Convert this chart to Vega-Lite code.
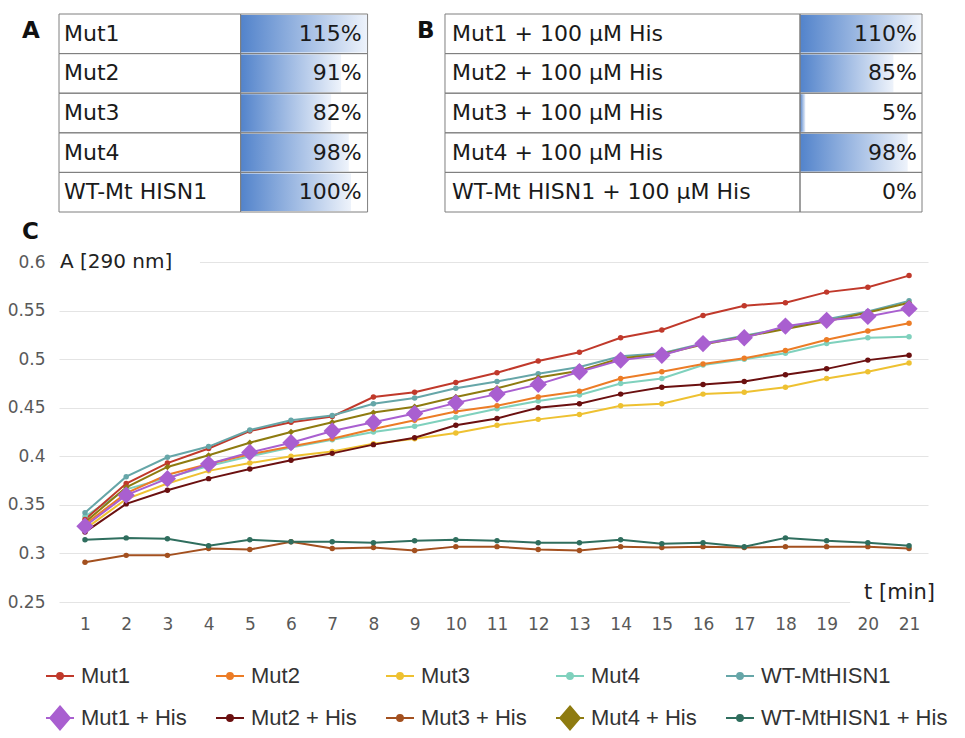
{
  "$schema": "https://vega.github.io/schema/vega-lite/v6.json",
  "autosize": {"type": "none"},
  "padding": {"left": 59, "top": 14, "right": 906, "bottom": 724},
  "background": "white",
  "config": {"view": {"stroke": null}, "font": "DejaVu Sans"},
  "datasets": {
    "tables": [
      {"row": 1, "nameA": "Mut1", "pctA": 1.15, "nameB": "Mut1 + 100 µM His", "pctB": 1.10},
      {"row": 2, "nameA": "Mut2", "pctA": 0.91, "nameB": "Mut2 + 100 µM His", "pctB": 0.85},
      {"row": 3, "nameA": "Mut3", "pctA": 0.82, "nameB": "Mut3 + 100 µM His", "pctB": 0.05},
      {"row": 4, "nameA": "Mut4", "pctA": 0.98, "nameB": "Mut4 + 100 µM His", "pctB": 0.98},
      {"row": 5, "nameA": "WT-Mt HISN1", "pctA": 1.0, "nameB": "WT-Mt HISN1 + 100 µM His", "pctB": 0.0}
    ],
    "kinetics": [
      {"t": 1, "Mut1": 0.335, "Mut2": 0.330, "Mut3": 0.325, "Mut4": 0.338, "WT-MtHISN1": 0.342, "Mut1 + His": 0.328, "Mut2 + His": 0.322, "Mut3 + His": 0.291, "Mut4 + His": 0.332, "WT-MtHISN1 + His": 0.314},
      {"t": 2, "Mut1": 0.372, "Mut2": 0.362, "Mut3": 0.356, "Mut4": 0.366, "WT-MtHISN1": 0.379, "Mut1 + His": 0.360, "Mut2 + His": 0.351, "Mut3 + His": 0.298, "Mut4 + His": 0.368, "WT-MtHISN1 + His": 0.316},
      {"t": 3, "Mut1": 0.393, "Mut2": 0.381, "Mut3": 0.372, "Mut4": 0.378, "WT-MtHISN1": 0.399, "Mut1 + His": 0.377, "Mut2 + His": 0.365, "Mut3 + His": 0.298, "Mut4 + His": 0.389, "WT-MtHISN1 + His": 0.315},
      {"t": 4, "Mut1": 0.408, "Mut2": 0.392, "Mut3": 0.385, "Mut4": 0.390, "WT-MtHISN1": 0.410, "Mut1 + His": 0.392, "Mut2 + His": 0.377, "Mut3 + His": 0.305, "Mut4 + His": 0.401, "WT-MtHISN1 + His": 0.308},
      {"t": 5, "Mut1": 0.426, "Mut2": 0.402, "Mut3": 0.393, "Mut4": 0.400, "WT-MtHISN1": 0.427, "Mut1 + His": 0.404, "Mut2 + His": 0.387, "Mut3 + His": 0.304, "Mut4 + His": 0.414, "WT-MtHISN1 + His": 0.314},
      {"t": 6, "Mut1": 0.435, "Mut2": 0.410, "Mut3": 0.400, "Mut4": 0.409, "WT-MtHISN1": 0.437, "Mut1 + His": 0.414, "Mut2 + His": 0.396, "Mut3 + His": 0.312, "Mut4 + His": 0.425, "WT-MtHISN1 + His": 0.312},
      {"t": 7, "Mut1": 0.441, "Mut2": 0.418, "Mut3": 0.405, "Mut4": 0.417, "WT-MtHISN1": 0.442, "Mut1 + His": 0.426, "Mut2 + His": 0.403, "Mut3 + His": 0.305, "Mut4 + His": 0.435, "WT-MtHISN1 + His": 0.312},
      {"t": 8, "Mut1": 0.461, "Mut2": 0.428, "Mut3": 0.413, "Mut4": 0.425, "WT-MtHISN1": 0.454, "Mut1 + His": 0.435, "Mut2 + His": 0.412, "Mut3 + His": 0.306, "Mut4 + His": 0.445, "WT-MtHISN1 + His": 0.311},
      {"t": 9, "Mut1": 0.466, "Mut2": 0.437, "Mut3": 0.418, "Mut4": 0.431, "WT-MtHISN1": 0.460, "Mut1 + His": 0.444, "Mut2 + His": 0.419, "Mut3 + His": 0.303, "Mut4 + His": 0.451, "WT-MtHISN1 + His": 0.313},
      {"t": 10, "Mut1": 0.476, "Mut2": 0.446, "Mut3": 0.424, "Mut4": 0.440, "WT-MtHISN1": 0.470, "Mut1 + His": 0.455, "Mut2 + His": 0.432, "Mut3 + His": 0.307, "Mut4 + His": 0.461, "WT-MtHISN1 + His": 0.314},
      {"t": 11, "Mut1": 0.486, "Mut2": 0.452, "Mut3": 0.432, "Mut4": 0.449, "WT-MtHISN1": 0.477, "Mut1 + His": 0.464, "Mut2 + His": 0.439, "Mut3 + His": 0.307, "Mut4 + His": 0.470, "WT-MtHISN1 + His": 0.313},
      {"t": 12, "Mut1": 0.498, "Mut2": 0.461, "Mut3": 0.438, "Mut4": 0.457, "WT-MtHISN1": 0.485, "Mut1 + His": 0.474, "Mut2 + His": 0.450, "Mut3 + His": 0.304, "Mut4 + His": 0.481, "WT-MtHISN1 + His": 0.311},
      {"t": 13, "Mut1": 0.507, "Mut2": 0.467, "Mut3": 0.443, "Mut4": 0.463, "WT-MtHISN1": 0.492, "Mut1 + His": 0.487, "Mut2 + His": 0.454, "Mut3 + His": 0.303, "Mut4 + His": 0.488, "WT-MtHISN1 + His": 0.311},
      {"t": 14, "Mut1": 0.522, "Mut2": 0.480, "Mut3": 0.452, "Mut4": 0.475, "WT-MtHISN1": 0.503, "Mut1 + His": 0.499, "Mut2 + His": 0.464, "Mut3 + His": 0.307, "Mut4 + His": 0.501, "WT-MtHISN1 + His": 0.314},
      {"t": 15, "Mut1": 0.530, "Mut2": 0.487, "Mut3": 0.454, "Mut4": 0.480, "WT-MtHISN1": 0.506, "Mut1 + His": 0.504, "Mut2 + His": 0.471, "Mut3 + His": 0.306, "Mut4 + His": 0.505, "WT-MtHISN1 + His": 0.310},
      {"t": 16, "Mut1": 0.545, "Mut2": 0.495, "Mut3": 0.464, "Mut4": 0.494, "WT-MtHISN1": 0.516, "Mut1 + His": 0.516, "Mut2 + His": 0.474, "Mut3 + His": 0.307, "Mut4 + His": 0.515, "WT-MtHISN1 + His": 0.311},
      {"t": 17, "Mut1": 0.555, "Mut2": 0.501, "Mut3": 0.466, "Mut4": 0.500, "WT-MtHISN1": 0.524, "Mut1 + His": 0.522, "Mut2 + His": 0.477, "Mut3 + His": 0.306, "Mut4 + His": 0.523, "WT-MtHISN1 + His": 0.307},
      {"t": 18, "Mut1": 0.558, "Mut2": 0.509, "Mut3": 0.471, "Mut4": 0.506, "WT-MtHISN1": 0.532, "Mut1 + His": 0.534, "Mut2 + His": 0.484, "Mut3 + His": 0.307, "Mut4 + His": 0.531, "WT-MtHISN1 + His": 0.316},
      {"t": 19, "Mut1": 0.569, "Mut2": 0.520, "Mut3": 0.480, "Mut4": 0.516, "WT-MtHISN1": 0.541, "Mut1 + His": 0.540, "Mut2 + His": 0.490, "Mut3 + His": 0.307, "Mut4 + His": 0.539, "WT-MtHISN1 + His": 0.313},
      {"t": 20, "Mut1": 0.574, "Mut2": 0.529, "Mut3": 0.487, "Mut4": 0.522, "WT-MtHISN1": 0.549, "Mut1 + His": 0.544, "Mut2 + His": 0.499, "Mut3 + His": 0.307, "Mut4 + His": 0.548, "WT-MtHISN1 + His": 0.311},
      {"t": 21, "Mut1": 0.586, "Mut2": 0.537, "Mut3": 0.496, "Mut4": 0.523, "WT-MtHISN1": 0.560, "Mut1 + His": 0.552, "Mut2 + His": 0.504, "Mut3 + His": 0.305, "Mut4 + His": 0.558, "WT-MtHISN1 + His": 0.308}
    ]
  },
  "bounds": "flush",
  "spacing": 50,
  "vconcat": [
    {
      "width": 863,
      "height": 198,
      "data": {"name": "tables"},
      "encoding": {"y": {"field": "row", "type": "ordinal", "scale": {"paddingInner": 0, "paddingOuter": 0}, "axis": null}},
      "resolve": {"scale": {"x": "independent"}, "axis": {"x": "independent"}},
      "layer": [
        {
          "layer": [
            {
              "mark": {"type": "bar", "height": {"band": 0.95}, "color": {"gradient": "linear", "x1": 0, "x2": 1, "y1": 0, "y2": 0, "stops": [{"offset": 0, "color": "#5283cb"}, {"offset": 1, "color": "#eef3fb"}]}},
              "encoding": {
                "x": {"field": "pctA", "type": "quantitative", "scale": {"domain": [-1.645, 6.172], "nice": false, "zero": false}, "axis": null},
                "x2": {"datum": 0}
              }
            },
            {
              "mark": {"type": "rect", "filled": false, "color": "#7f7f7f", "strokeWidth": 1},
              "encoding": {"x": {"datum": -1.645, "type": "quantitative"}, "x2": {"datum": 0}}
            },
            {
              "mark": {"type": "rect", "filled": false, "color": "#7f7f7f", "strokeWidth": 1},
              "encoding": {"x": {"datum": 0, "type": "quantitative"}, "x2": {"datum": 1.15}}
            },
            {
              "mark": {"type": "text", "align": "left", "baseline": "middle", "fontSize": 22, "color": "#1a1a1a"},
              "encoding": {"x": {"datum": -1.6, "type": "quantitative"}, "text": {"field": "nameA"}}
            },
            {
              "mark": {"type": "text", "align": "right", "baseline": "middle", "dx": -6, "fontSize": 22, "color": "#1a1a1a"},
              "encoding": {"x": {"datum": 1.15, "type": "quantitative"}, "text": {"field": "pctA", "type": "quantitative", "format": ".0%"}}
            },
            {
              "data": {"values": [{"row": 1, "label": "A"}]},
              "mark": {"type": "text", "align": "left", "baseline": "middle", "dy": -3, "fontSize": 23, "fontWeight": "bold", "color": "#111111"},
              "encoding": {"x": {"datum": -1.98, "type": "quantitative"}, "text": {"field": "label"}}
            }
          ]
        },
        {
          "layer": [
            {
              "mark": {"type": "bar", "height": {"band": 0.95}, "color": {"gradient": "linear", "x1": 0, "x2": 1, "y1": 0, "y2": 0, "stops": [{"offset": 0, "color": "#5283cb"}, {"offset": 1, "color": "#eef3fb"}]}},
              "encoding": {
                "x": {"field": "pctB", "type": "quantitative", "scale": {"domain": [-6.742, 1.11], "nice": false, "zero": false}, "axis": null},
                "x2": {"datum": 0}
              }
            },
            {
              "mark": {"type": "rect", "filled": false, "color": "#7f7f7f", "strokeWidth": 1},
              "encoding": {"x": {"datum": -3.23, "type": "quantitative"}, "x2": {"datum": 0}}
            },
            {
              "mark": {"type": "rect", "filled": false, "color": "#7f7f7f", "strokeWidth": 1},
              "encoding": {"x": {"datum": 0, "type": "quantitative"}, "x2": {"datum": 1.11}}
            },
            {
              "mark": {"type": "text", "align": "left", "baseline": "middle", "fontSize": 22, "color": "#1a1a1a"},
              "encoding": {"x": {"datum": -3.166, "type": "quantitative"}, "text": {"field": "nameB"}}
            },
            {
              "mark": {"type": "text", "align": "right", "baseline": "middle", "dx": -5, "fontSize": 22, "color": "#1a1a1a"},
              "encoding": {"x": {"datum": 1.11, "type": "quantitative"}, "text": {"field": "pctB", "type": "quantitative", "format": ".0%"}}
            },
            {
              "data": {"values": [{"row": 1, "label": "B"}]},
              "mark": {"type": "text", "align": "left", "baseline": "middle", "dy": -3, "fontSize": 23, "fontWeight": "bold", "color": "#111111"},
              "encoding": {"x": {"datum": -3.485, "type": "quantitative"}, "text": {"field": "label"}}
            }
          ]
        }
      ]
    },
    {
      "width": 869,
      "height": 340,
      "title": {"text": "C", "anchor": "start", "frame": "group", "baseline": "alphabetic", "offset": 0, "dx": -37, "dy": 10, "fontSize": 23, "fontWeight": "bold", "font": "DejaVu Sans", "color": "#111111"},
      "layer": [
        {
          "data": {"values": [{}]},
          "mark": {"type": "rect", "color": "white"},
          "encoding": {
            "x": {"datum": 0.393, "type": "quantitative", "scale": {"domain": [0.369, 21.46], "nice": false, "zero": false}, "axis": {"values": [1,2,3,4,5,6,7,8,9,10,11,12,13,14,15,16,17,18,19,20,21], "format": "d", "grid": false, "domain": false, "ticks": false, "labelPadding": 14, "labelFontSize": 17, "labelColor": "#595959", "title": null}},
            "x2": {"datum": 3.79},
            "y": {"datum": 0.594, "type": "quantitative", "scale": {"domain": [0.25, 0.6], "nice": false, "zero": false}, "axis": {"values": [0.25, 0.3, 0.35, 0.4, 0.45, 0.5, 0.55, 0.6], "format": "~g", "grid": true, "gridColor": "#e4e4e4", "domain": false, "ticks": false, "labelPadding": 14, "labelFontSize": 17, "labelColor": "#595959", "title": null}},
            "y2": {"datum": 0.606}
          }
        },
        {
          "data": {"values": [{}]},
          "mark": {"type": "rect", "color": "white"},
          "encoding": {
            "x": {"datum": 19.57, "type": "quantitative"},
            "x2": {"datum": 21.46},
            "y": {"datum": 0.245, "type": "quantitative"},
            "y2": {"datum": 0.255}
          }
        },
        {
          "data": {"name": "kinetics"},
          "transform": [{"fold": ["Mut3 + His", "WT-MtHISN1 + His", "Mut3", "Mut2 + His", "Mut4", "Mut2", "Mut1", "WT-MtHISN1", "Mut4 + His", "Mut1 + His"], "as": ["series", "A"]}],
          "mark": {"type": "line"},
          "encoding": {
            "x": {"field": "t", "type": "quantitative"},
            "y": {"field": "A", "type": "quantitative"},
            "color": {
              "field": "series", "type": "nominal",
              "scale": {
                "domain": ["Mut1", "Mut2", "Mut3", "Mut4", "WT-MtHISN1", "Mut1 + His", "Mut2 + His", "Mut3 + His", "Mut4 + His", "WT-MtHISN1 + His"],
                "range": ["#c0392b", "#ec7c26", "#eec131", "#7fd1bd", "#66a6a8", "#a95fd0", "#6b1010", "#a3501f", "#8e7b10", "#2f6e5e"]
              },
              "legend": {
                "orient": "none", "legendX": -14, "legendY": 647,
                "direction": "horizontal", "columns": 5, "gridAlign": "each",
                "columnPadding": 25, "rowPadding": 15, "title": null,
                "labelFont": "Liberation Sans", "labelFontSize": 22, "labelColor": "#333333",
                "labelOffset": 6, "labelLimit": 400, "symbolSize": 784, "symbolStrokeWidth": 2.5,
                "symbolType": "M-1,0H1M0.21,0A0.21,0.21 0 1,1 -0.21,0A0.21,0.21 0 1,1 0.21,0Z",
                "encode": {
                  "symbols": {
                    "update": {
                      "shape": {"signal": "indexof(['Mut1 + His','Mut4 + His'], datum.value) >= 0 ? 'M-1,0H1M0,-0.82L0.7,0L0,0.82L-0.7,0Z' : 'M-1,0H1M0.21,0A0.21,0.21 0 1,1 -0.21,0A0.21,0.21 0 1,1 0.21,0Z'"},
                      "fill": {"scale": "color", "field": "value"},
                      "stroke": {"scale": "color", "field": "value"},
                      "strokeWidth": {"value": 2.5},
                      "opacity": {"value": 1}
                    }
                  }
                }
              }
            },
            "strokeWidth": {
              "field": "series", "type": "nominal",
              "scale": {
                "domain": ["Mut1", "Mut2", "Mut3", "Mut4", "WT-MtHISN1", "Mut1 + His", "Mut2 + His", "Mut3 + His", "Mut4 + His", "WT-MtHISN1 + His"],
                "range": [2, 2, 2, 2, 2, 2.5, 2, 2, 3.5, 2]
              },
              "legend": null
            }
          }
        },
        {
          "data": {"name": "kinetics"},
          "transform": [
            {"fold": ["Mut3 + His", "WT-MtHISN1 + His", "Mut3", "Mut2 + His", "Mut4", "Mut2", "Mut1", "WT-MtHISN1"], "as": ["series", "A"]}
          ],
          "mark": {"type": "point", "filled": true, "opacity": 1, "shape": "circle", "size": 30},
          "encoding": {
            "x": {"field": "t", "type": "quantitative"},
            "y": {"field": "A", "type": "quantitative"},
            "color": {"field": "series", "type": "nominal"}
          }
        },
        {
          "data": {"name": "kinetics"},
          "transform": [
            {"fold": ["Mut4 + His"], "as": ["series", "A"]}
          ],
          "mark": {"type": "point", "filled": true, "opacity": 1, "shape": "diamond", "size": 40},
          "encoding": {
            "x": {"field": "t", "type": "quantitative"},
            "y": {"field": "A", "type": "quantitative"},
            "color": {"field": "series", "type": "nominal"}
          }
        },
        {
          "data": {"name": "kinetics"},
          "transform": [
            {"fold": ["Mut1 + His"], "as": ["series", "A"]}
          ],
          "mark": {"type": "point", "filled": true, "opacity": 1, "shape": "diamond", "size": 300},
          "encoding": {
            "x": {"field": "t", "type": "quantitative"},
            "y": {"field": "A", "type": "quantitative"},
            "color": {"field": "series", "type": "nominal"}
          }
        },
        {
          "data": {"values": [{}]},
          "mark": {"type": "text", "align": "left", "baseline": "middle", "fontSize": 20, "color": "#222222"},
          "encoding": {
            "x": {"datum": 0.393, "type": "quantitative"},
            "y": {"datum": 0.6, "type": "quantitative"},
            "text": {"value": "A [290 nm]"}
          }
        },
        {
          "data": {"values": [{}]},
          "mark": {"type": "text", "align": "right", "baseline": "middle", "fontSize": 21, "color": "#222222"},
          "encoding": {
            "x": {"datum": 21.63, "type": "quantitative"},
            "y": {"datum": 0.2588, "type": "quantitative"},
            "text": {"value": "t [min]"}
          }
        }
      ]
    }
  ]
}
